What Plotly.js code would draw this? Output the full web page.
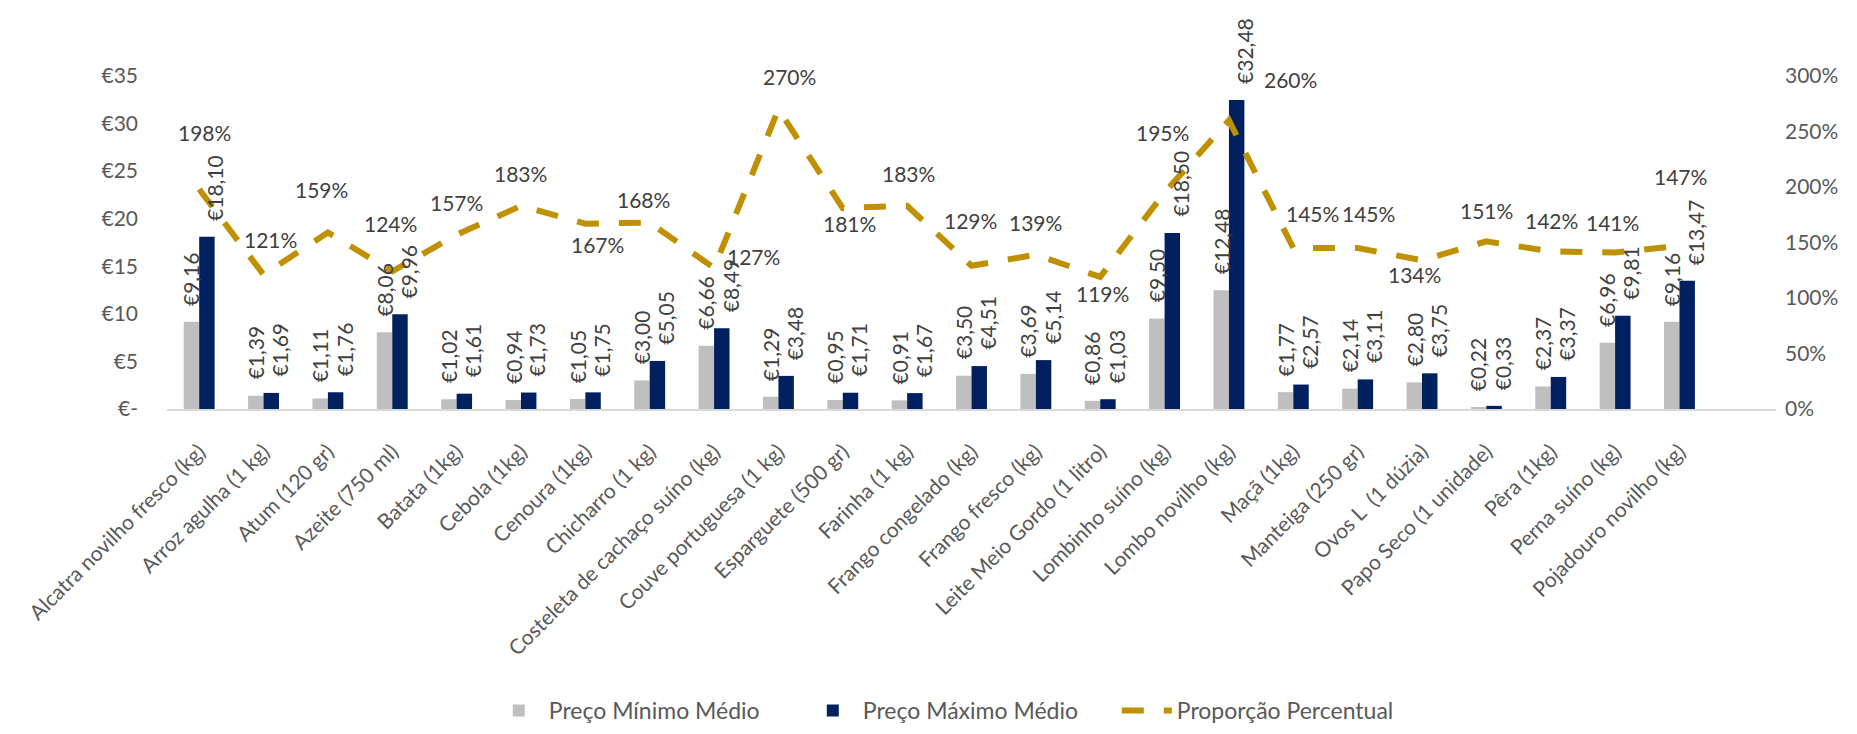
<!DOCTYPE html>
<html>
<head>
<meta charset="utf-8">
<script src="https://cdn.plot.ly/plotly-3.0.1.min.js"></script>
<style>
  html, body { margin: 0; padding: 0; background: #fff; }
  #chart { width: 1857px; height: 734px; }
</style>
</head>
<body>
<div id="chart"></div>
<script>
// categorias (produtos)
let produtos = [
    'Alcatra novilho fresco (kg)', 'Arroz agulha (1 kg)', 'Atum (120 gr)', 'Azeite (750 ml)',
    'Batata (1kg)', 'Cebola (1kg)', 'Cenoura (1kg)', 'Chicharro (1 kg)',
    'Costeleta de cachaço suíno (kg)', 'Couve portuguesa (1 kg)', 'Esparguete (500 gr)', 'Farinha (1 kg)',
    'Frango congelado (kg)', 'Frango fresco (kg)', 'Leite Meio Gordo (1 litro)', 'Lombinho suíno (kg)',
    'Lombo novilho (kg)', 'Maçã (1kg)', 'Manteiga (250 gr)', 'Ovos L  (1 dúzia)',
    'Papo Seco (1 unidade)', 'Pêra (1kg)', 'Perna suíno (kg)', 'Pojadouro novilho (kg)'
];

let precoMinimo = [9.16, 1.39, 1.11, 8.06, 1.02, 0.94, 1.05, 3.00, 6.66, 1.29, 0.95, 0.91,
    3.50, 3.69, 0.86, 9.50, 12.48, 1.77, 2.14, 2.80, 0.22, 2.37, 6.96, 9.16];

let precoMaximo = [18.10, 1.69, 1.76, 9.96, 1.61, 1.73, 1.75, 5.05, 8.49, 3.48, 1.71, 1.67,
    4.51, 5.14, 1.03, 18.50, 32.48, 2.57, 3.11, 3.75, 0.33, 3.37, 9.81, 13.47];

let proporcao = [1.98, 1.21, 1.59, 1.24, 1.57, 1.83, 1.67, 1.68, 1.27, 2.70, 1.81, 1.83,
    1.29, 1.39, 1.19, 1.95, 2.60, 1.45, 1.45, 1.34, 1.51, 1.42, 1.41, 1.47];

let eixoEsqValores = [0, 5, 10, 15, 20, 25, 30, 35];
let eixoEsqTextos = ['€-', '€5', '€10', '€15', '€20', '€25', '€30', '€35'];

// deslocamento (px) das etiquetas da linha em relação ao ponto, como no Excel
let etiquetaDx = [5, 7, -6, -2, 0, 0, 12, -6, 39, 11, 7, 1, -1, 0, 2, -2, 62, 19, 11, -8, 0, 1, -3, 1];
let etiquetaDy = [-57, -35, -43, -48, -32, -32, 21, -23, -12, -33, 15, -32, -45, -32, 17, -60, -41, -35, -35, 14, -31, -31, -30, -69];

let fonte = 'Lato, "Open Sans", sans-serif';
let cinzaTexto = '#595959';
let cinzaEtiqueta = '#404040';

function formatarEuro(valor) {
    return '€' + valor.toFixed(2).replace('.', ',');
}

function formatarPercentagem(valor) {
    return Math.round(valor * 100) + '%';
}

var barraMinimo = {
    x: produtos,
    y: precoMinimo,
    type: 'bar',
    name: 'Preço Mínimo Médio',
    marker: { color: '#bfbfbf' },
    hoverinfo: 'x+y'
};

var barraMaximo = {
    x: produtos,
    y: precoMaximo,
    type: 'bar',
    name: 'Preço Máximo Médio',
    marker: { color: '#002060' },
    hoverinfo: 'x+y'
};

var linhaProporcao = {
    x: produtos,
    y: proporcao,
    type: 'scatter',
    mode: 'lines',
    name: 'Proporção Percentual',
    yaxis: 'y2',
    line: { color: '#bf9000', width: 6, dash: '22px,20px' },
    cliponaxis: false
};

// etiquetas de dados (rodadas nas barras, horizontais na linha)
let etiquetas = [];

for (let i = 0; i < produtos.length; i++) {
    etiquetas.push({
        x: produtos[i], y: precoMinimo[i], xref: 'x', yref: 'y',
        text: formatarEuro(precoMinimo[i]),
        textangle: -90, showarrow: false,
        xanchor: 'center', yanchor: 'bottom',
        xshift: -8, yshift: 14,
        font: { family: fonte, size: 21, color: cinzaEtiqueta }
    });
    etiquetas.push({
        x: produtos[i], y: precoMaximo[i], xref: 'x', yref: 'y',
        text: formatarEuro(precoMaximo[i]),
        textangle: -90, showarrow: false,
        xanchor: 'center', yanchor: 'bottom',
        xshift: 16, yshift: 14,
        font: { family: fonte, size: 21, color: cinzaEtiqueta }
    });
    etiquetas.push({
        x: produtos[i], y: proporcao[i], xref: 'x', yref: 'y2',
        text: formatarPercentagem(proporcao[i]),
        showarrow: false,
        xanchor: 'center', yanchor: 'middle',
        xshift: etiquetaDx[i], yshift: -etiquetaDy[i],
        font: { family: fonte, size: 21, color: cinzaEtiqueta }
    });
}

var layout = {
    width: 1857,
    height: 734,
    margin: { l: 167, r: 81, t: 76, b: 325, autoexpand: false },
    paper_bgcolor: '#ffffff',
    plot_bgcolor: '#ffffff',
    font: { family: fonte, size: 21, color: cinzaTexto },
    barmode: 'group',
    bargap: 0.52,
    bargroupgap: 0,
    showlegend: true,
    legend: {
        orientation: 'h',
        x: 0.2,
        xanchor: 'left',
        y: -0.97,
        yanchor: 'bottom',
        font: { family: fonte, size: 23, color: cinzaTexto },
        itemwidth: 50,
        entrywidth: 249,
        entrywidthmode: 'pixels'
    },
    xaxis: {
        type: 'category',
        range: [-0.5, 24.5],
        automargin: false,
        tickangle: -45,
        showline: true,
        linecolor: '#d9d9d9',
        linewidth: 2,
        ticks: '',
        showgrid: false,
        ticklabelstandoff: 20,
        tickfont: { family: fonte, size: 21, color: cinzaTexto }
    },
    yaxis: {
        range: [0, 35],
        tickvals: eixoEsqValores,
        ticktext: eixoEsqTextos,
        showgrid: false,
        zeroline: false,
        showline: false,
        ticks: '',
        ticklabelstandoff: 28,
        tickfont: { family: fonte, size: 21, color: cinzaTexto }
    },
    yaxis2: {
        overlaying: 'y',
        side: 'right',
        range: [0, 3],
        dtick: 0.5,
        tickformat: '.0%',
        showgrid: false,
        zeroline: false,
        showline: false,
        ticks: '',
        ticklabelstandoff: 8,
        tickfont: { family: fonte, size: 21, color: cinzaTexto }
    },
    annotations: etiquetas
};

Plotly.newPlot('chart', [barraMinimo, barraMaximo, linhaProporcao], layout, { displayModeBar: false });
</script>
</body>
</html>
